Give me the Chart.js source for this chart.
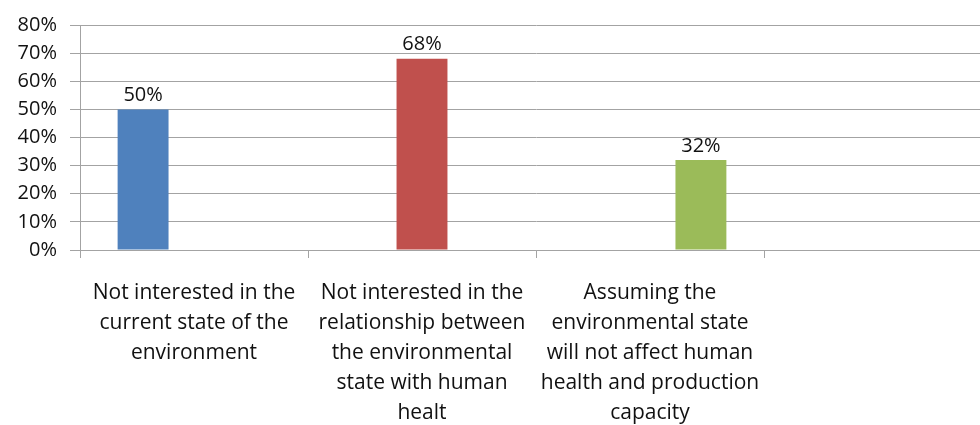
<!DOCTYPE html>
<html>
<head>
<meta charset="utf-8">
<script src="https://cdn.jsdelivr.net/npm/chart.js@4/dist/chart.umd.min.js"></script>
<style>
  html, body { margin: 0; padding: 0; background: #fff; overflow: hidden; }
  #wrap { position: absolute; left: 0; top: 0; width: 1000px; height: 425px; }
</style>
</head>
<body>
<div id="wrap"><canvas id="chart" width="1000" height="425"></canvas></div>
<script>
// Data
const categories = [
  ['Not interested in the', 'current state of the', 'environment'],
  ['Not interested in the', 'relationship between', 'the environmental', 'state with human', 'healt'],
  ['Assuming the', 'environmental state', 'will not affect human', 'health and production', 'capacity'],
  ''
];
const values = [50, 68, 32];          // percent, one bar per category
const yTicks = [0, 10, 20, 30, 40, 50, 60, 70, 80];

const barColors = ['#4F81BD', '#C0504D', '#9BBB59'];
const gridColor = '#a3a3a3';
const textColor = '#111111';

// each value is its own series, so the bars sit at offset positions like Excel
const datasets = values.map((v, i) => ({
  label: 'S' + (i + 1),
  data: categories.map((_, j) => (j === i ? v : null)),
  backgroundColor: barColors[i],
  categoryPercentage: 0.67,
  barPercentage: 1.0
}));

// value labels above the bars
const barLabels = {
  id: 'barLabels',
  afterDatasetsDraw(chart) {
    const ctx = chart.ctx;
    ctx.save();
    ctx.font = '20px "Open Sans"';
    ctx.fillStyle = textColor;
    ctx.textAlign = 'center';
    ctx.textBaseline = 'bottom';
    chart.data.datasets.forEach((ds, i) => {
      chart.getDatasetMeta(i).data.forEach((bar, j) => {
        const v = ds.data[j];
        if (v == null) return;
        ctx.fillText(v + '%', bar.x, bar.y - 4);
      });
    });
    ctx.restore();
  }
};

const ctx = document.getElementById('chart').getContext('2d');
new Chart(ctx, {
  type: 'bar',
  data: { labels: categories, datasets: datasets },
  options: {
    responsive: false,
    animation: false,
    devicePixelRatio: 1,
    layout: { padding: { top: 22, right: 8, bottom: 0, left: 0 } },
    plugins: {
      legend: { display: false },
      tooltip: { enabled: false }
    },
    scales: {
      x: {
        grid: {
          offset: true,
          drawOnChartArea: false,
          drawTicks: true,
          tickLength: 8,
          color: gridColor
        },
        border: { color: gridColor },
        ticks: {
          autoSkip: false,
          maxRotation: 0,
          minRotation: 0,
          padding: 20,
          color: textColor,
          font: { family: 'Open Sans', size: 21, lineHeight: '30px' }
        },
        afterFit(scale) { scale.height = 175; }
      },
      y: {
        min: yTicks[0],
        max: yTicks[yTicks.length - 1],
        afterBuildTicks(scale) { scale.ticks = yTicks.map(v => ({ value: v })); },
        grid: { color: gridColor, tickLength: 10 },
        border: { color: gridColor },
        ticks: {
          padding: 13,
          color: textColor,
          font: { family: 'Open Sans', size: 20 },
          callback: v => v + '%'
        },
        afterFit(scale) { scale.width = 80; }
      }
    }
  },
  plugins: [barLabels]
});
</script>
</body>
</html>
